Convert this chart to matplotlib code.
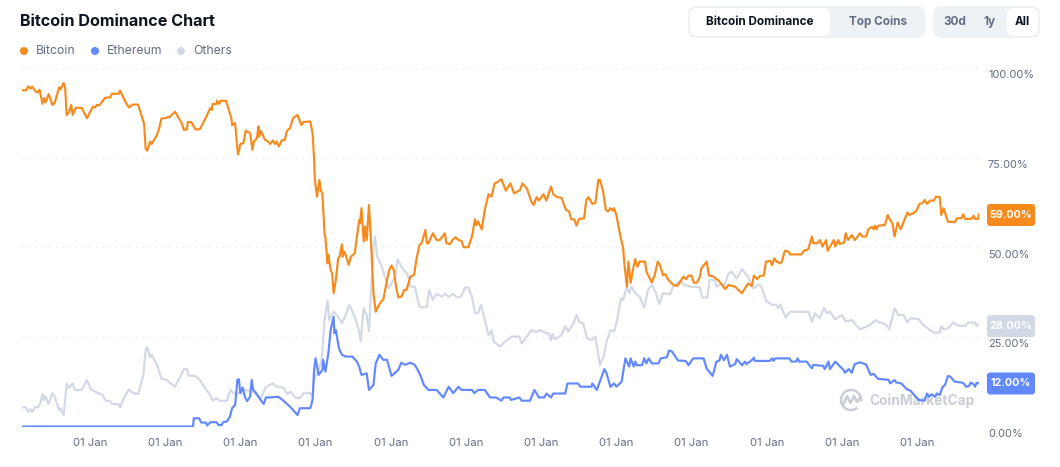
import matplotlib
matplotlib.use('Agg')
import matplotlib.pyplot as plt
from matplotlib.patches import FancyBboxPatch, Arc, Circle
from matplotlib.transforms import ScaledTranslation

plt.rcParams['font.family'] = ['Inter', 'DejaVu Sans']

# values, x is decimal year, y is percent
btc_year = [2013.10, 2013.15, 2013.18, 2013.21, 2013.23, 2013.27, 2013.30, 2013.33, 2013.37, 2013.39, 2013.41, 2013.45, 2013.47, 2013.50, 2013.53, 2013.59, 2013.61, 2013.65, 2013.67, 2013.69, 2013.72, 2013.75, 2013.77, 2013.81, 2013.89, 2013.96,
            2014.01, 2014.04, 2014.07, 2014.09, 2014.13, 2014.20, 2014.27, 2014.29, 2014.38, 2014.40, 2014.48, 2014.52, 2014.57, 2014.64, 2014.72, 2014.74, 2014.76, 2014.80, 2014.82, 2014.89, 2014.92, 2014.95,
            2015.02, 2015.04, 2015.06, 2015.13, 2015.22, 2015.25, 2015.29, 2015.30, 2015.35, 2015.40, 2015.46, 2015.53, 2015.60, 2015.62, 2015.63, 2015.68, 2015.69, 2015.72, 2015.74, 2015.81, 2015.88, 2015.89, 2015.93, 2015.96, 2015.97,
            2016.00, 2016.04, 2016.07, 2016.13, 2016.16, 2016.18, 2016.22, 2016.24, 2016.25, 2016.27, 2016.33, 2016.37, 2016.40, 2016.43, 2016.46, 2016.48, 2016.51, 2016.55, 2016.59, 2016.62, 2016.66, 2016.70, 2016.76, 2016.81, 2016.84, 2016.93,
            2016.96, 2016.98, 2016.99, 2017.02, 2017.05, 2017.07, 2017.09, 2017.12, 2017.13, 2017.16, 2017.17, 2017.20, 2017.22, 2017.24, 2017.27, 2017.30, 2017.32, 2017.35, 2017.36, 2017.38, 2017.40, 2017.44, 2017.47, 2017.52, 2017.58, 2017.59, 2017.61, 2017.64, 2017.66, 2017.68, 2017.71, 2017.74, 2017.77, 2017.80, 2017.83, 2017.87, 2017.90, 2017.95, 2017.98,
            2018.01, 2018.04, 2018.07, 2018.10, 2018.14, 2018.18, 2018.21, 2018.26, 2018.31, 2018.34, 2018.38, 2018.41, 2018.46, 2018.48, 2018.50, 2018.56, 2018.61, 2018.65, 2018.72, 2018.74, 2018.79, 2018.82, 2018.86, 2018.90, 2018.94, 2018.97,
            2019.03, 2019.08, 2019.12, 2019.14, 2019.16, 2019.21, 2019.25, 2019.30, 2019.34, 2019.38, 2019.43, 2019.47, 2019.53, 2019.59, 2019.64, 2019.72, 2019.75, 2019.81, 2019.87, 2019.90, 2019.94, 2019.97,
            2020.03, 2020.07, 2020.13, 2020.16, 2020.21, 2020.27, 2020.33, 2020.37, 2020.40, 2020.44, 2020.47, 2020.50, 2020.57, 2020.60, 2020.63, 2020.68, 2020.72, 2020.76, 2020.78, 2020.82, 2020.86, 2020.89, 2020.92, 2020.95, 2020.97,
            2021.00, 2021.05, 2021.09, 2021.11, 2021.14, 2021.16, 2021.19, 2021.22, 2021.25, 2021.28, 2021.31, 2021.38, 2021.40, 2021.47, 2021.51, 2021.55, 2021.58, 2021.62, 2021.65, 2021.69, 2021.76, 2021.81, 2021.86, 2021.89, 2021.93, 2021.96,
            2022.00, 2022.03, 2022.07, 2022.11, 2022.13, 2022.20, 2022.23, 2022.29, 2022.36, 2022.45, 2022.49, 2022.58, 2022.62, 2022.67, 2022.75, 2022.80, 2022.83, 2022.87, 2022.91, 2022.96, 2022.99,
            2023.05, 2023.07, 2023.10, 2023.13, 2023.18, 2023.20, 2023.24, 2023.29, 2023.31, 2023.46, 2023.49, 2023.55, 2023.60, 2023.62, 2023.67, 2023.71, 2023.74, 2023.79, 2023.81, 2023.89, 2023.91, 2023.95, 2023.97,
            2024.03, 2024.05, 2024.08, 2024.13, 2024.17, 2024.24, 2024.27, 2024.32, 2024.35, 2024.40, 2024.42, 2024.44, 2024.46, 2024.48, 2024.57, 2024.61, 2024.64, 2024.67, 2024.70, 2024.74, 2024.78, 2024.82, 2024.87, 2024.90, 2024.95, 2024.99,
            2025.03, 2025.07, 2025.10, 2025.13, 2025.17, 2025.22, 2025.25, 2025.30, 2025.32, 2025.35, 2025.41, 2025.50, 2025.53, 2025.59, 2025.61, 2025.64, 2025.72, 2025.75, 2025.77, 2025.81, 2025.82]
btc_pct = [93.8, 93.8, 94.9, 94.2, 94.8, 93.7, 93.1, 93.9, 90.0, 91.6, 90.4, 92.7, 91.6, 89.7, 90.2, 94.6, 94.1, 95.8, 94.4, 86.9, 87.6, 89.7, 86.9, 88.9, 88.9, 86.0,
           88.1, 89.2, 89.0, 89.7, 89.7, 91.7, 91.8, 92.8, 92.8, 93.7, 90.2, 89.0, 89.8, 89.8, 84.4, 77.6, 76.9, 79.5, 78.8, 81.3, 83.2, 85.9,
           86.1, 86.4, 86.3, 87.8, 84.6, 82.7, 82.9, 84.9, 84.9, 82.9, 82.9, 85.7, 88.8, 88.3, 90.0, 89.9, 90.9, 90.0, 90.9, 90.8, 86.0, 84.1, 84.6, 77.6, 75.9,
           78.8, 79.0, 82.5, 81.8, 77.2, 79.5, 80.4, 83.7, 80.9, 82.5, 79.9, 79.5, 78.8, 79.8, 78.8, 79.5, 78.1, 79.8, 79.9, 82.5, 83.2, 86.0, 86.9, 84.1, 84.9, 85.1,
           81.8, 74.8, 68.8, 64.1, 68.8, 65.8, 65.1, 53.4, 52.8, 45.5, 47.9, 43.7, 42.7, 37.2, 40.9, 46.9, 47.4, 50.8, 47.4, 48.8, 47.9, 45.1, 47.4, 48.3, 57.6, 56.7, 60.9, 51.6, 55.8, 52.0, 61.8, 50.2, 37.2, 32.0, 33.4, 34.8, 35.3, 40.9, 43.7,
           44.9, 43.7, 39.0, 36.0, 36.2, 38.1, 38.1, 41.8, 42.3, 46.5, 50.6, 51.1, 54.8, 51.1, 51.1, 53.9, 52.0, 52.0, 53.9, 51.1, 50.9, 52.0, 52.8, 52.0, 51.8, 50.0,
           50.0, 53.0, 57.8, 56.2, 57.2, 55.0, 60.4, 64.8, 64.1, 67.8, 68.3, 69.0, 65.8, 67.8, 65.0, 66.0, 67.8, 66.4, 62.7, 61.8, 64.0, 63.0,
           64.8, 63.0, 66.9, 64.8, 64.0, 63.8, 60.4, 60.0, 57.8, 57.8, 56.0, 57.8, 58.1, 63.2, 64.0, 62.1, 62.3, 68.8, 68.8, 66.0, 60.4, 60.0, 60.9, 60.2, 60.9,
           59.0, 53.4, 49.7, 44.6, 39.0, 46.0, 40.1, 43.7, 46.7, 44.6, 46.0, 46.0, 43.2, 40.2, 42.2, 46.0, 45.0, 42.2, 42.5, 40.9, 39.5, 39.2, 40.7, 41.8, 41.1, 42.1,
           42.1, 40.1, 40.1, 41.8, 44.1, 46.0, 42.2, 41.8, 40.7, 38.3, 39.5, 39.0, 38.1, 37.2, 39.9, 39.2, 42.1, 41.1, 42.0, 42.1, 46.0,
           46.2, 45.0, 46.9, 46.0, 45.5, 46.0, 49.0, 48.8, 48.0, 48.0, 49.0, 49.4, 53.0, 51.1, 51.1, 52.0, 50.2, 52.0, 49.0, 52.0, 50.2, 52.0, 50.9,
           51.3, 53.9, 52.0, 53.4, 52.0, 53.9, 53.0, 53.0, 55.0, 55.7, 55.0, 56.0, 55.0, 56.0, 56.2, 59.0, 57.6, 56.7, 53.0, 56.9, 55.0, 57.1, 59.7, 59.0, 59.5, 60.2,
           62.1, 62.3, 63.2, 62.1, 63.0, 63.0, 64.1, 64.0, 59.0, 60.9, 57.1, 57.0, 58.1, 58.1, 59.2, 57.9, 57.9, 58.8, 57.9, 57.9, 59.2]

eth_year = [2013.10, 2015.37, 2015.38, 2015.45, 2015.48, 2015.54, 2015.56, 2015.60, 2015.68, 2015.71, 2015.75, 2015.77, 2015.82, 2015.86, 2015.89, 2015.93, 2015.96, 2015.98,
            2016.00, 2016.03, 2016.06, 2016.09, 2016.13, 2016.15, 2016.17, 2016.21, 2016.24, 2016.28, 2016.31, 2016.34, 2016.39, 2016.50, 2016.55, 2016.62, 2016.68, 2016.76, 2016.79, 2016.93,
            2016.96, 2016.98, 2017.00, 2017.04, 2017.09, 2017.10, 2017.13, 2017.17, 2017.20, 2017.24, 2017.25, 2017.27, 2017.31, 2017.35, 2017.40, 2017.49, 2017.55, 2017.58, 2017.61, 2017.68, 2017.71, 2017.77, 2017.80, 2017.85, 2017.90, 2017.95,
            2018.01, 2018.10, 2018.14, 2018.19, 2018.26, 2018.32, 2018.37, 2018.41, 2018.44, 2018.50, 2018.61, 2018.70, 2018.77, 2018.83, 2018.90, 2018.94,
            2019.08, 2019.11, 2019.16, 2019.25, 2019.32, 2019.40, 2019.47, 2019.50, 2019.58, 2019.60, 2019.71, 2019.74, 2019.85, 2019.91, 2019.97,
            2020.04, 2020.07, 2020.13, 2020.16, 2020.32, 2020.35, 2020.49, 2020.52, 2020.67, 2020.68, 2020.74, 2020.84, 2020.87, 2020.92, 2020.97,
            2021.00, 2021.07, 2021.12, 2021.17, 2021.19, 2021.23, 2021.25, 2021.27, 2021.34, 2021.37, 2021.40, 2021.43, 2021.47, 2021.56, 2021.59, 2021.67, 2021.70, 2021.74, 2021.82, 2021.92, 2021.96,
            2022.02, 2022.16, 2022.20, 2022.28, 2022.33, 2022.37, 2022.39, 2022.43, 2022.47, 2022.51, 2022.58, 2022.60, 2022.67, 2022.71, 2022.73, 2022.80, 2022.83, 2022.84,
            2023.04, 2023.07, 2023.09, 2023.11, 2023.18, 2023.30, 2023.33, 2023.39, 2023.41, 2023.43, 2023.53, 2023.60, 2023.62, 2023.75, 2023.77, 2023.82, 2023.84, 2023.91,
            2024.02, 2024.04, 2024.09, 2024.13, 2024.17, 2024.24, 2024.32, 2024.38, 2024.42, 2024.48, 2024.62, 2024.64, 2024.70, 2024.72, 2024.79, 2024.86, 2024.91,
            2025.02, 2025.10, 2025.13, 2025.16, 2025.19, 2025.24, 2025.26, 2025.30, 2025.34, 2025.37, 2025.41, 2025.44, 2025.50, 2025.61, 2025.65, 2025.69, 2025.71, 2025.74, 2025.77, 2025.79, 2025.82]
eth_pct = [0.0, 0.0, 2.3, 2.3, 1.1, 1.1, 0.3, 1.2, 1.2, 0.4, 0.4, 1.2, 1.4, 2.7, 5.1, 6.0, 13.0, 13.2,
           9.3, 10.9, 8.3, 7.1, 8.3, 13.0, 10.2, 9.3, 8.3, 7.1, 6.3, 8.1, 8.1, 8.3, 7.6, 6.3, 5.1, 3.2, 5.1, 5.1,
           7.4, 15.8, 19.0, 14.4, 15.8, 18.6, 15.3, 20.4, 26.9, 30.6, 26.0, 26.9, 21.8, 20.0, 19.5, 19.5, 18.1, 16.7, 14.4, 14.8, 10.2, 11.6, 17.6, 20.0, 18.6, 18.6,
           14.1, 15.8, 17.8, 17.2, 17.8, 17.2, 15.3, 13.4, 11.6, 10.2, 10.2, 8.1, 11.1, 9.3, 11.1, 10.2,
           10.2, 9.3, 10.2, 10.2, 8.1, 8.1, 7.2, 8.1, 8.1, 7.4, 8.1, 7.2, 7.2, 10.2, 8.1,
           8.1, 9.2, 8.1, 9.2, 9.2, 12.0, 12.0, 11.1, 11.1, 12.0, 10.2, 16.0, 14.8, 11.1, 12.0,
           11.1, 12.5, 19.0, 16.7, 19.0, 16.7, 18.1, 17.1, 17.1, 19.0, 17.6, 19.0, 17.6, 17.6, 19.0, 19.3, 21.2, 20.9, 18.4, 18.3, 17.1,
           19.0, 19.0, 16.2, 14.1, 18.1, 18.4, 20.0, 18.5, 20.0, 16.7, 17.4, 18.8, 17.1, 18.1, 17.4, 18.5, 19.2, 18.3,
           18.3, 19.0, 18.3, 19.0, 19.0, 19.0, 18.1, 18.1, 19.0, 18.1, 18.1, 16.2, 17.2, 16.9, 16.0, 18.1, 16.0, 18.1,
           15.8, 15.0, 16.0, 15.0, 17.4, 17.9, 17.3, 14.4, 14.7, 13.3, 13.0, 12.0, 13.0, 12.3, 12.0, 10.4, 10.0,
           7.4, 7.2, 9.2, 8.3, 9.0, 8.3, 9.2, 8.8, 11.1, 11.6, 14.1, 13.9, 12.5, 12.2, 11.1, 11.3, 12.2, 12.0, 11.1, 12.2, 12.0]

others_year = [2013.10, 2013.15, 2013.18, 2013.21, 2013.23, 2013.27, 2013.31, 2013.34, 2013.37, 2013.39, 2013.41, 2013.45, 2013.50, 2013.53, 2013.59, 2013.61, 2013.65, 2013.69, 2013.72, 2013.77, 2013.80, 2013.89, 2013.96,
               2014.01, 2014.07, 2014.11, 2014.16, 2014.21, 2014.27, 2014.29, 2014.38, 2014.40, 2014.45, 2014.52, 2014.57, 2014.64, 2014.71, 2014.74, 2014.76, 2014.80, 2014.82, 2014.89, 2014.92, 2014.95,
               2015.02, 2015.04, 2015.13, 2015.22, 2015.25, 2015.29, 2015.31, 2015.40, 2015.46, 2015.53, 2015.60, 2015.63, 2015.68, 2015.73, 2015.82, 2015.87, 2015.91,
               2016.00, 2016.07, 2016.17, 2016.24, 2016.28, 2016.33, 2016.39, 2016.43, 2016.48, 2016.57, 2016.62, 2016.67, 2016.73, 2016.79, 2016.84, 2016.93,
               2016.96, 2016.98, 2017.04, 2017.08, 2017.12, 2017.16, 2017.18, 2017.24, 2017.30, 2017.35, 2017.39, 2017.45, 2017.52, 2017.58, 2017.60, 2017.64, 2017.68, 2017.71, 2017.74, 2017.77, 2017.79, 2017.82, 2017.88, 2017.92, 2017.97,
               2018.01, 2018.06, 2018.09, 2018.14, 2018.19, 2018.22, 2018.26, 2018.32, 2018.38, 2018.43, 2018.48, 2018.51, 2018.56, 2018.61, 2018.68, 2018.72, 2018.77, 2018.83, 2018.88, 2018.93, 2018.99,
               2019.03, 2019.08, 2019.12, 2019.16, 2019.20, 2019.25, 2019.30, 2019.34, 2019.37, 2019.45, 2019.52, 2019.61, 2019.71, 2019.74, 2019.81, 2019.87, 2019.94, 2019.98,
               2020.05, 2020.10, 2020.13, 2020.15, 2020.18, 2020.27, 2020.32, 2020.36, 2020.43, 2020.47, 2020.51, 2020.56, 2020.61, 2020.67, 2020.72, 2020.75, 2020.78, 2020.83, 2020.87, 2020.92, 2020.97,
               2021.01, 2021.06, 2021.09, 2021.12, 2021.14, 2021.17, 2021.20, 2021.25, 2021.31, 2021.37, 2021.42, 2021.47, 2021.52, 2021.57, 2021.62, 2021.71, 2021.76, 2021.80, 2021.85, 2021.90,
               2022.00, 2022.11, 2022.14, 2022.21, 2022.24, 2022.31, 2022.33, 2022.40, 2022.44, 2022.49, 2022.53, 2022.60, 2022.67, 2022.75, 2022.82, 2022.89, 2022.93, 2022.99,
               2023.07, 2023.13, 2023.15, 2023.18, 2023.25, 2023.31, 2023.55, 2023.60, 2023.64, 2023.70, 2023.76, 2023.80, 2023.84, 2023.91,
               2024.00, 2024.05, 2024.13, 2024.24, 2024.37, 2024.45, 2024.48, 2024.57, 2024.63, 2024.70, 2024.75, 2024.82, 2024.87, 2024.91,
               2025.02, 2025.08, 2025.22, 2025.30, 2025.32, 2025.35, 2025.41, 2025.48, 2025.55, 2025.64, 2025.68, 2025.77, 2025.79, 2025.82]
others_pct = [5.3, 5.3, 4.1, 4.8, 4.1, 5.4, 5.4, 6.5, 9.1, 7.4, 8.3, 6.3, 9.3, 8.3, 4.6, 5.1, 3.2, 12.0, 10.7, 12.0, 10.2, 10.2, 13.0,
              10.4, 9.7, 9.3, 9.0, 7.2, 7.1, 6.3, 6.2, 5.3, 7.9, 10.4, 9.3, 9.1, 14.4, 21.4, 22.1, 19.3, 20.0, 17.2, 15.3, 13.3,
              13.0, 12.5, 11.1, 14.7, 16.0, 16.0, 14.2, 14.1, 13.0, 10.7, 8.8, 7.2, 7.9, 7.1, 7.2, 10.2, 9.3,
              9.3, 10.2, 9.7, 8.3, 8.1, 10.7, 11.6, 12.0, 11.1, 10.9, 9.1, 9.7, 8.1, 7.9, 9.3, 9.3,
              8.3, 13.0, 15.8, 18.6, 29.7, 35.0, 29.7, 32.0, 30.6, 28.8, 30.6, 33.9, 30.6, 26.5, 23.7, 33.0, 31.1, 26.5, 38.1, 50.2, 53.0, 47.4, 44.6, 41.8, 38.6,
              39.9, 41.8, 46.6, 44.6, 43.2, 42.7, 39.0, 39.0, 33.4, 33.2, 33.4, 38.1, 35.3, 37.0, 36.2, 37.0, 36.2, 37.0, 36.0, 36.2, 38.8,
              38.8, 36.2, 31.6, 31.6, 33.9, 29.7, 25.5, 26.9, 23.7, 22.3, 23.7, 25.1, 25.1, 23.2, 25.1, 26.9, 26.3, 26.9,
              26.2, 26.0, 24.1, 25.8, 24.3, 25.5, 28.0, 26.5, 28.8, 31.1, 29.1, 28.8, 24.6, 24.1, 25.1, 21.3, 17.1, 19.5, 23.7, 26.9, 26.5,
              29.7, 35.8, 35.3, 37.6, 39.0, 37.2, 39.0, 37.2, 36.2, 33.2, 38.1, 39.5, 37.6, 34.2, 37.2, 36.9, 39.2, 39.8, 40.7, 39.5,
              39.0, 38.8, 36.0, 36.0, 40.9, 40.9, 39.0, 39.9, 39.4, 42.7, 43.2, 41.3, 43.9, 41.8, 38.5, 39.6, 39.0, 35.1,
              33.9, 33.9, 33.0, 34.0, 30.4, 32.0, 32.0, 29.3, 31.6, 30.2, 33.0, 31.6, 32.0, 29.9,
              31.1, 29.3, 29.7, 27.1, 28.3, 29.7, 29.2, 28.6, 27.1, 33.0, 31.1, 31.1, 29.0, 30.2,
              29.9, 28.3, 26.2, 26.2, 28.0, 27.1, 27.4, 29.0, 28.1, 28.1, 29.0, 29.0, 28.1, 28.6]

year_ticks = list(range(2014, 2026))
pct_ticks = [0, 25, 50, 75, 100]
badge_values = [59, 28, 12]

BTC_C = '#F78A1D'
ETH_C = '#6188FF'
OTH_C = '#D3D8E6'
TXT_C = '#616E85'
DARK = '#0D1421'
badge_colors = [BTC_C, OTH_C, ETH_C]

W, H = 1060, 467
fig = plt.figure(figsize=(W / 100, H / 100), dpi=100, facecolor='white')

# overlay in pixel coords for the page furniture (title, buttons, legend, logo)
ui = fig.add_axes([0, 0, 1, 1])
ui.set_xlim(0, W)
ui.set_ylim(H, 0)
ui.axis('off')


def box(x0, y0, x1, y1, color, r=7):
    ui.add_patch(FancyBboxPatch((x0 + r, y0 + r), x1 - x0 - 2 * r, y1 - y0 - 2 * r,
                                boxstyle='round,pad=%d,rounding_size=%d' % (r, r),
                                fc=color, ec='none'))


ui.text(20, 21.5, 'Bitcoin Dominance Chart', fontsize=11.6, fontweight='bold', color=DARK, va='center')

box(688, 6, 925, 38, '#EFF2F5', 8)
box(690, 8, 830, 36, 'white', 7)
box(933, 6, 1040, 38, '#EFF2F5', 8)
box(1007, 8, 1038, 36, 'white', 7)
ui.text(760, 22, 'Bitcoin Dominance', fontsize=8.45, fontweight='bold', color=DARK, ha='center', va='center')
ui.text(878, 22, 'Top Coins', fontsize=8.45, fontweight='bold', color=TXT_C, ha='center', va='center')
ui.text(955, 22, '30d', fontsize=8.45, fontweight='bold', color=TXT_C, ha='center', va='center')
ui.text(990, 22, '1y', fontsize=8.45, fontweight='bold', color=TXT_C, ha='center', va='center')
ui.text(1022, 22, 'All', fontsize=8.45, fontweight='bold', color=DARK, ha='center', va='center')

# legend
for dot_x, name, c in [(24, 'Bitcoin', BTC_C), (95, 'Ethereum', ETH_C), (181, 'Others', OTH_C)]:
    ui.add_patch(Circle((dot_x, 51), 4, fc=c, ec='none'))
    ui.text(dot_x + 12, 51.5, name, fontsize=8.8, color=TXT_C, va='center')

# watermark
WM = '#C9CED8'
ui.add_patch(Arc((851, 400), 20, 20, theta1=50, theta2=370, lw=1.8, color=WM))
ui.plot([843, 847, 850.5, 854, 857, 860], [405, 396, 403, 396, 402, 398], color=WM, lw=1.8)
ui.text(869, 401, 'CoinMarketCap', fontsize=9.9, fontweight='bold', color=WM, va='center')

# main chart, pixel box taken from the gridlines
left, right, top, bottom = 22, 979, 68, 426.5
ax = fig.add_axes([left / W, 1 - bottom / H, (right - left) / W, (bottom - top) / H])
ax.patch.set_alpha(0)
ax.set_xlim(2013.096, 2025.822)
ax.set_ylim(0, 100)

ax.plot(others_year, others_pct, color=OTH_C, lw=1.55, zorder=3, solid_joinstyle='round')
ax.plot(eth_year, eth_pct, color=ETH_C, lw=1.55, zorder=4, solid_joinstyle='round')
ax.plot(btc_year, btc_pct, color=BTC_C, lw=1.55, zorder=5, solid_joinstyle='round')

ax.set_yticks(pct_ticks)
ax.set_yticklabels(['%.2f%%' % v for v in pct_ticks])
ax.yaxis.tick_right()
ax.set_xticks(year_ticks)
ax.set_xticklabels(['01 Jan'] * len(year_ticks))
ax.tick_params(axis='both', length=0, labelsize=8.2, labelcolor=TXT_C)
ax.tick_params(axis='y', pad=6.5, labelsize=7.9)
ax.tick_params(axis='x', pad=8.5)
ax.grid(axis='y', color='#DFE3EA', lw=0.8, ls=(0, (1, 5)))
ax.set_axisbelow(True)
for s in ax.spines.values():
    s.set_visible(False)

# the y labels sit just under their gridline
shift = ScaledTranslation(0, -6.5 / 100, fig.dpi_scale_trans)
for lab in ax.get_yticklabels():
    lab.set_transform(lab.get_transform() + shift)

# value badges at the right edge, centred on the series' last value
for v, c in zip(badge_values, badge_colors):
    y_px = bottom - v / 100 * (bottom - top)
    box(987, y_px - 11, 1035, y_px + 11, c, 3)
    ui.text(1011, y_px, '%.2f%%' % v, fontsize=7.7, fontweight='bold', color='white',
            ha='center', va='center')

fig.savefig('out.png', dpi=100)
